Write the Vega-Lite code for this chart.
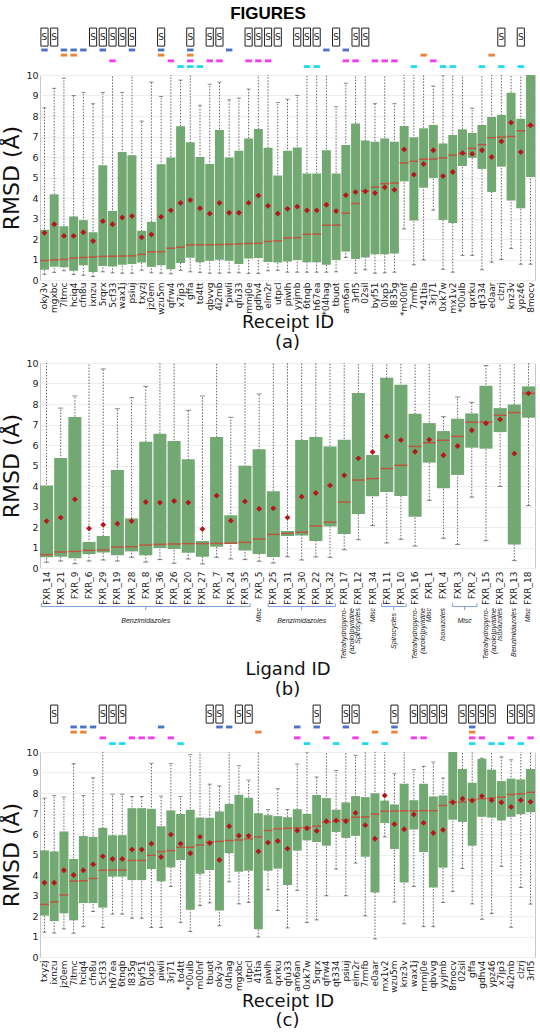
{
"$schema": "https://vega.github.io/schema/vega-lite/v6.json",
"padding": {"left": 0, "right": 4, "top": 5, "bottom": 0},
"title": {"text": "FIGURES", "font": "Liberation Sans", "fontSize": 17, "fontWeight": "bold", "anchor": "middle", "orient": "top", "offset": 4, "color": "#000"},
"spacing": 4,
"config": {
  "view": {"stroke": "#c8c8c8"},
  "axis": {"labelFont": "DejaVu Sans", "titleFont": "DejaVu Sans", "labelColor": "#222", "titleColor": "#111", "titleFontWeight": "normal", "ticks": false, "domain": false},
  "axisQuantitative": {"tickCount": 11, "labelOverlap": false, "labelSeparation": 0},
  "axisYQuantitative": {"tickCount": 11, "labelOverlap": false, "labelSeparation": 0},
  "axisY": {"grid": true, "gridColor": "#eeeeee", "labelFontSize": 9.5, "titleFontSize": 22, "labelPadding": 2, "titlePadding": 2, "labelOverlap": false, "tickCount": 11},
  "axisX": {"labelAngle": -90, "labelFontSize": 9, "titleFontSize": 18, "labelPadding": 3, "titlePadding": -2, "grid": false},
  "title": {"font": "DejaVu Sans", "fontSize": 18, "fontWeight": "normal", "orient": "bottom", "anchor": "middle", "offset": 2, "color": "#111"}
},
"datasets": {
  "a": [
    {"id":"oky3v","lo":0.28,"q1":0.5,"med":0.95,"q3":2.45,"hi":8.4,"mean":2.3,"tags":"S T1"},
    {"id":"mgxbc","lo":0.37,"q1":0.65,"med":0.98,"q3":4.18,"hi":9.35,"mean":2.72,"tags":"S"},
    {"id":"7ltmc","lo":0.45,"q1":0.62,"med":1.0,"q3":2.62,"hi":9.85,"mean":2.15,"tags":"T1 T2"},
    {"id":"hciq4","lo":0.27,"q1":0.45,"med":1.07,"q3":3.1,"hi":9.0,"mean":2.15,"tags":"T1 T2"},
    {"id":"cfn8u","lo":0.23,"q1":0.72,"med":1.1,"q3":2.92,"hi":9.15,"mean":2.33,"tags":"T1"},
    {"id":"ixnzu","lo":0.17,"q1":0.39,"med":1.12,"q3":2.33,"hi":8.6,"mean":1.9,"tags":"S"},
    {"id":"5rqrx","lo":0.4,"q1":0.68,"med":1.15,"q3":5.6,"hi":9.15,"mean":2.87,"tags":"S T1"},
    {"id":"5cf33","lo":0.35,"q1":0.66,"med":1.16,"q3":3.37,"hi":10.6,"mean":2.72,"tags":"S T3"},
    {"id":"wax1j","lo":0.33,"q1":0.75,"med":1.17,"q3":6.25,"hi":9.15,"mean":3.05,"tags":"S"},
    {"id":"psiuj","lo":0.33,"q1":0.78,"med":1.18,"q3":6.08,"hi":10.6,"mean":3.12,"tags":"S T1"},
    {"id":"txyzj","lo":0.48,"q1":0.85,"med":1.25,"q3":2.4,"hi":7.75,"mean":2.08,"tags":""},
    {"id":"jz0em","lo":0.35,"q1":0.64,"med":1.37,"q3":2.84,"hi":9.65,"mean":2.22,"tags":""},
    {"id":"wzu5m","lo":0.33,"q1":0.72,"med":1.38,"q3":5.65,"hi":8.95,"mean":3.08,"tags":"S T1 T2"},
    {"id":"qfrw4","lo":0.3,"q1":0.52,"med":1.55,"q3":5.97,"hi":10.6,"mean":3.4,"tags":"T3"},
    {"id":"x7jp3","lo":0.47,"q1":0.83,"med":1.6,"q3":7.5,"hi":9.75,"mean":3.76,"tags":"T4"},
    {"id":"gffa","lo":0.4,"q1":1.08,"med":1.71,"q3":6.72,"hi":10.6,"mean":3.9,"tags":"S T1 T2 T3 T4"},
    {"id":"to4tt","lo":0.37,"q1":0.86,"med":1.72,"q3":6.0,"hi":8.52,"mean":3.5,"tags":"T4"},
    {"id":"qbvvg","lo":0.33,"q1":0.94,"med":1.72,"q3":5.66,"hi":9.55,"mean":3.24,"tags":"S T3"},
    {"id":"4i2mb","lo":0.33,"q1":0.99,"med":1.73,"q3":7.32,"hi":9.65,"mean":3.76,"tags":"S T3"},
    {"id":"*piwli","lo":0.35,"q1":0.94,"med":1.74,"q3":5.97,"hi":8.79,"mean":3.28,"tags":"T1"},
    {"id":"qfu33","lo":0.35,"q1":0.78,"med":1.76,"q3":6.3,"hi":8.87,"mean":3.28,"tags":""},
    {"id":"mmj0e","lo":0.32,"q1":1.05,"med":1.78,"q3":6.9,"hi":9.31,"mean":3.76,"tags":"S T3"},
    {"id":"gdhv4","lo":0.32,"q1":1.07,"med":1.79,"q3":7.37,"hi":10.6,"mean":4.12,"tags":"S T3"},
    {"id":"elm2r","lo":0.45,"q1":0.88,"med":1.88,"q3":6.45,"hi":10.6,"mean":3.62,"tags":"S T3"},
    {"id":"utpcl","lo":0.47,"q1":0.85,"med":1.91,"q3":5.1,"hi":8.66,"mean":3.24,"tags":"S"},
    {"id":"piwlh","lo":0.38,"q1":0.9,"med":2.05,"q3":6.3,"hi":8.82,"mean":3.47,"tags":""},
    {"id":"yyjmb","lo":0.38,"q1":0.97,"med":2.06,"q3":6.46,"hi":9.0,"mean":3.58,"tags":"S"},
    {"id":"6tnqb","lo":0.38,"q1":0.87,"med":2.23,"q3":5.19,"hi":10.6,"mean":3.4,"tags":"S T4"},
    {"id":"h67ea","lo":0.38,"q1":0.87,"med":2.24,"q3":5.19,"hi":10.6,"mean":3.4,"tags":"S T4"},
    {"id":"*04hag","lo":0.38,"q1":0.74,"med":2.67,"q3":6.33,"hi":10.6,"mean":3.67,"tags":"T1"},
    {"id":"tbuot","lo":0.4,"q1":0.98,"med":2.68,"q3":5.19,"hi":8.45,"mean":3.36,"tags":"S"},
    {"id":"am6an","lo":1.1,"q1":1.39,"med":3.26,"q3":6.58,"hi":9.6,"mean":4.14,"tags":"T1 T3"},
    {"id":"3rfl5","lo":0.33,"q1":1.03,"med":3.73,"q3":7.64,"hi":10.6,"mean":4.29,"tags":"S T3"},
    {"id":"02sil","lo":0.5,"q1":1.1,"med":4.35,"q3":6.81,"hi":10.6,"mean":4.32,"tags":"S"},
    {"id":"byf51","lo":0.33,"q1":1.26,"med":4.53,"q3":6.74,"hi":8.6,"mean":4.24,"tags":"T3"},
    {"id":"0lxp5","lo":0.35,"q1":1.26,"med":4.7,"q3":6.9,"hi":10.6,"mean":4.52,"tags":"T3"},
    {"id":"l835g","lo":0.38,"q1":1.29,"med":4.73,"q3":6.74,"hi":8.6,"mean":4.4,"tags":"T3"},
    {"id":"*m00nf","lo":2.49,"q1":4.81,"med":5.71,"q3":7.51,"hi":10.6,"mean":6.37,"tags":""},
    {"id":"7rmfb","lo":0.74,"q1":2.9,"med":5.79,"q3":6.96,"hi":10.6,"mean":5.14,"tags":"T4"},
    {"id":"*41tia","lo":0.98,"q1":4.5,"med":5.89,"q3":7.4,"hi":10.6,"mean":5.66,"tags":"T2"},
    {"id":"3rj71","lo":3.41,"q1":4.98,"med":5.9,"q3":7.56,"hi":9.46,"mean":6.33,"tags":"T3"},
    {"id":"0xk7w","lo":0.52,"q1":2.93,"med":5.96,"q3":6.66,"hi":10.0,"mean":5.07,"tags":"T4"},
    {"id":"mx1v2","lo":0.38,"q1":2.78,"med":6.09,"q3":7.07,"hi":10.6,"mean":5.27,"tags":"T4"},
    {"id":"*00ulb","lo":1.2,"q1":5.56,"med":6.17,"q3":7.35,"hi":10.6,"mean":6.19,"tags":""},
    {"id":"qxrku","lo":1.2,"q1":5.96,"med":6.42,"q3":7.17,"hi":8.38,"mean":6.15,"tags":""},
    {"id":"qt334","lo":0.5,"q1":5.42,"med":6.6,"q3":7.56,"hi":10.6,"mean":6.33,"tags":"T4"},
    {"id":"e0aar","lo":0.87,"q1":4.29,"med":6.94,"q3":7.95,"hi":10.6,"mean":6.0,"tags":"T2"},
    {"id":"clzrj","lo":1.0,"q1":5.53,"med":6.97,"q3":8.05,"hi":10.6,"mean":6.76,"tags":"S T4"},
    {"id":"knz3v","lo":1.54,"q1":3.88,"med":7.0,"q3":9.13,"hi":10.6,"mean":7.68,"tags":""},
    {"id":"ypz46","lo":0.77,"q1":3.5,"med":7.28,"q3":7.86,"hi":10.6,"mean":6.24,"tags":"S T4"},
    {"id":"8mocv","lo":0.77,"q1":5.02,"med":7.53,"q3":10.6,"hi":10.6,"mean":7.55,"tags":""}
  ],
  "b": [
    {"id":"FXR_14","lo":0.28,"q1":0.52,"med":0.65,"q3":4.02,"hi":10.6,"mean":2.29},
    {"id":"FXR_21","lo":0.34,"q1":0.55,"med":0.78,"q3":5.37,"hi":7.8,"mean":2.46},
    {"id":"FXR_9","lo":0.21,"q1":0.47,"med":0.81,"q3":7.37,"hi":8.39,"mean":3.35},
    {"id":"FXR_6","lo":0.34,"q1":0.68,"med":0.86,"q3":1.27,"hi":10.6,"mean":1.93},
    {"id":"FXR_29","lo":0.39,"q1":0.76,"med":0.88,"q3":1.56,"hi":9.71,"mean":2.11},
    {"id":"FXR_19","lo":0.34,"q1":0.62,"med":1.02,"q3":4.78,"hi":7.77,"mean":2.16},
    {"id":"FXR_28","lo":0.52,"q1":0.81,"med":1.04,"q3":2.42,"hi":8.31,"mean":2.29},
    {"id":"FXR_8","lo":0.29,"q1":0.62,"med":1.12,"q3":6.16,"hi":8.86,"mean":3.22},
    {"id":"FXR_36","lo":0.41,"q1":0.98,"med":1.15,"q3":6.55,"hi":10.6,"mean":3.19},
    {"id":"FXR_26","lo":0.23,"q1":0.93,"med":1.17,"q3":6.2,"hi":10.6,"mean":3.27},
    {"id":"FXR_20","lo":0.44,"q1":0.75,"med":1.19,"q3":5.3,"hi":7.69,"mean":3.19},
    {"id":"FXR_27","lo":0.2,"q1":0.55,"med":1.19,"q3":1.32,"hi":8.39,"mean":1.9},
    {"id":"FXR_7","lo":0.52,"q1":1.04,"med":1.2,"q3":6.39,"hi":10.6,"mean":3.53},
    {"id":"FXR_24","lo":0.44,"q1":1.17,"med":1.21,"q3":2.57,"hi":7.35,"mean":2.31},
    {"id":"FXR_35","lo":0.41,"q1":0.85,"med":1.25,"q3":4.99,"hi":10.6,"mean":3.25},
    {"id":"FXR_5","lo":0.33,"q1":0.68,"med":1.41,"q3":5.79,"hi":8.49,"mean":2.89},
    {"id":"FXR_25","lo":0.24,"q1":0.54,"med":1.64,"q3":3.74,"hi":10.6,"mean":2.91},
    {"id":"FXR_31","lo":0.55,"q1":1.56,"med":1.69,"q3":1.8,"hi":10.6,"mean":2.46},
    {"id":"FXR_30","lo":0.39,"q1":1.59,"med":1.74,"q3":6.24,"hi":10.6,"mean":3.48},
    {"id":"FXR_22","lo":0.54,"q1":1.32,"med":2.05,"q3":6.39,"hi":10.6,"mean":3.66},
    {"id":"FXR_32","lo":0.52,"q1":2.02,"med":2.24,"q3":5.93,"hi":10.6,"mean":4.03},
    {"id":"FXR_17","lo":0.89,"q1":1.66,"med":3.22,"q3":6.26,"hi":10.6,"mean":4.52},
    {"id":"FXR_12","lo":1.38,"q1":2.63,"med":4.29,"q3":8.54,"hi":10.6,"mean":5.35},
    {"id":"FXR_34","lo":2.07,"q1":3.5,"med":4.36,"q3":5.51,"hi":10.6,"mean":5.66},
    {"id":"FXR_11","lo":1.22,"q1":3.71,"med":4.85,"q3":9.28,"hi":10.6,"mean":6.42},
    {"id":"FXR_10","lo":1.4,"q1":3.51,"med":5.01,"q3":8.94,"hi":10.6,"mean":6.24},
    {"id":"FXR_16","lo":1.07,"q1":2.5,"med":5.93,"q3":7.53,"hi":10.6,"mean":5.67},
    {"id":"FXR_1","lo":3.3,"q1":5.14,"med":6.11,"q3":7.07,"hi":10.6,"mean":6.26},
    {"id":"FXR_4","lo":1.45,"q1":3.89,"med":6.23,"q3":6.68,"hi":7.38,"mean":5.5},
    {"id":"FXR_3","lo":1.15,"q1":4.54,"med":6.42,"q3":7.28,"hi":8.34,"mean":5.95},
    {"id":"FXR_2","lo":3.46,"q1":5.87,"med":7.11,"q3":7.54,"hi":8.08,"mean":6.72},
    {"id":"FXR_15","lo":1.33,"q1":5.82,"med":7.12,"q3":8.89,"hi":9.87,"mean":7.06},
    {"id":"FXR_23","lo":3.98,"q1":6.63,"med":7.45,"q3":7.8,"hi":10.6,"mean":7.25},
    {"id":"FXR_13","lo":0.36,"q1":1.15,"med":7.58,"q3":7.97,"hi":10.6,"mean":5.58},
    {"id":"FXR_18","lo":3.04,"q1":7.33,"med":8.52,"q3":8.86,"hi":10.6,"mean":8.52}
  ],
  "groups": [
    {"label":"Benzimidazoles","first":"FXR_14","last":"FXR_35","center":"FXR_8","n":15},
    {"label":"Misc","first":"FXR_5","last":"FXR_5","center":"FXR_5","n":1},
    {"label":"Benzimidazoles","first":"FXR_25","last":"FXR_32","center":"FXR_30","n":5},
    {"label":"Tetrahydropyrro-\n(azolo)pyridine","first":"FXR_17","last":"FXR_17","center":"FXR_17","n":1},
    {"label":"Spirocycles","first":"FXR_12","last":"FXR_12","center":"FXR_12","n":1},
    {"label":"Misc","first":"FXR_34","last":"FXR_34","center":"FXR_34","n":1},
    {"label":"Spirocycles","first":"FXR_11","last":"FXR_10","center":"FXR_11","n":2},
    {"label":"Tetrahydropyrro-\n(azolo)pyridine","first":"FXR_16","last":"FXR_16","center":"FXR_16","n":1},
    {"label":"Misc","first":"FXR_1","last":"FXR_1","center":"FXR_1","n":1},
    {"label":"Isoxazoles","first":"FXR_4","last":"FXR_4","center":"FXR_4","n":1},
    {"label":"Misc","first":"FXR_3","last":"FXR_2","center":"FXR_3","n":2},
    {"label":"Tetrahydropyrro-\n(azolo)pyridine","first":"FXR_15","last":"FXR_15","center":"FXR_15","n":1},
    {"label":"Isoxazoles","first":"FXR_23","last":"FXR_23","center":"FXR_23","n":1},
    {"label":"Benzimidazoles","first":"FXR_13","last":"FXR_13","center":"FXR_13","n":1},
    {"label":"Misc","first":"FXR_18","last":"FXR_18","center":"FXR_18","n":1}
  ],
  "c": [
    {"id":"txyzj","lo":1.21,"q1":2.02,"med":2.56,"q3":5.2,"hi":7.75,"mean":3.62,"tags":""},
    {"id":"ixnzu","lo":1.17,"q1":1.75,"med":2.69,"q3":5.15,"hi":7.88,"mean":3.62,"tags":"S"},
    {"id":"jz0em","lo":1.37,"q1":2.14,"med":3.03,"q3":6.12,"hi":7.8,"mean":4.23,"tags":""},
    {"id":"7ltmc","lo":1.16,"q1":1.79,"med":3.7,"q3":4.78,"hi":9.43,"mean":4.0,"tags":"T1 T2"},
    {"id":"hciq4","lo":1.48,"q1":2.63,"med":3.72,"q3":5.9,"hi":7.88,"mean":4.23,"tags":"T1 T2"},
    {"id":"cfn8u","lo":2.22,"q1":2.63,"med":3.83,"q3":5.86,"hi":8.74,"mean":4.52,"tags":"T1"},
    {"id":"5cf33","lo":1.44,"q1":2.41,"med":4.23,"q3":6.3,"hi":10.6,"mean":4.91,"tags":"S T3"},
    {"id":"h67ea","lo":2.09,"q1":3.92,"med":4.24,"q3":5.94,"hi":7.94,"mean":4.78,"tags":"S T4"},
    {"id":"6tnqb","lo":2.09,"q1":3.92,"med":4.24,"q3":5.94,"hi":7.94,"mean":4.78,"tags":"S T4"},
    {"id":"l835g","lo":1.89,"q1":3.75,"med":4.71,"q3":7.26,"hi":7.83,"mean":5.24,"tags":"T3"},
    {"id":"byf51","lo":1.89,"q1":3.75,"med":4.71,"q3":7.26,"hi":7.83,"mean":5.24,"tags":"T3"},
    {"id":"0lxp5","lo":1.44,"q1":4.29,"med":4.96,"q3":7.23,"hi":9.45,"mean":5.53,"tags":"T3"},
    {"id":"piwli","lo":1.44,"q1":3.69,"med":5.14,"q3":6.38,"hi":7.85,"mean":4.88,"tags":"T1"},
    {"id":"3rj71","lo":3.44,"q1":4.37,"med":5.19,"q3":7.15,"hi":9.43,"mean":5.97,"tags":"T3"},
    {"id":"to4tt","lo":1.68,"q1":4.73,"med":5.35,"q3":6.98,"hi":7.83,"mean":5.53,"tags":"T4"},
    {"id":"*00ulb","lo":1.24,"q1":2.3,"med":5.36,"q3":7.18,"hi":9.87,"mean":5.06,"tags":""},
    {"id":"m00nf","lo":2.51,"q1":4.06,"med":5.46,"q3":6.8,"hi":10.6,"mean":5.86,"tags":""},
    {"id":"tbuot","lo":2.64,"q1":4.24,"med":5.6,"q3":6.79,"hi":8.43,"mean":5.56,"tags":"S"},
    {"id":"oky3v","lo":1.53,"q1":2.27,"med":5.64,"q3":7.1,"hi":8.35,"mean":4.73,"tags":"S T1"},
    {"id":"04hag","lo":3.67,"q1":5.06,"med":5.68,"q3":7.47,"hi":10.6,"mean":6.38,"tags":"T1"},
    {"id":"mgxbc","lo":2.59,"q1":4.16,"med":5.71,"q3":7.91,"hi":9.33,"mean":5.92,"tags":"S"},
    {"id":"utpcl","lo":2.66,"q1":4.21,"med":5.77,"q3":7.77,"hi":8.63,"mean":5.91,"tags":"S"},
    {"id":"41tia","lo":0.98,"q1":1.35,"med":5.86,"q3":7.01,"hi":10.6,"mean":5.15,"tags":"T2"},
    {"id":"piwlh","lo":3.28,"q1":4.21,"med":6.17,"q3":6.92,"hi":7.19,"mean":5.58,"tags":""},
    {"id":"qxrku","lo":2.27,"q1":4.31,"med":6.25,"q3":6.87,"hi":8.21,"mean":5.66,"tags":""},
    {"id":"qfu33","lo":1.42,"q1":3.51,"med":6.28,"q3":6.82,"hi":7.19,"mean":5.29,"tags":""},
    {"id":"am6an","lo":3.25,"q1":5.19,"med":6.3,"q3":7.21,"hi":9.41,"mean":6.17,"tags":"T1 T3"},
    {"id":"0xk7w","lo":1.68,"q1":5.69,"med":6.31,"q3":6.98,"hi":10.0,"mean":6.28,"tags":"T4"},
    {"id":"5rqrx","lo":1.81,"q1":5.61,"med":6.38,"q3":7.9,"hi":8.78,"mean":6.15,"tags":"S T1"},
    {"id":"qfrw4","lo":2.99,"q1":5.43,"med":6.57,"q3":7.75,"hi":10.6,"mean":6.62,"tags":"T3"},
    {"id":"qt334","lo":4.29,"q1":6.1,"med":6.62,"q3":7.19,"hi":9.1,"mean":6.66,"tags":"T4"},
    {"id":"psiuj","lo":2.99,"q1":5.81,"med":6.7,"q3":7.54,"hi":10.6,"mean":6.62,"tags":"S T1"},
    {"id":"elm2r","lo":4.58,"q1":5.91,"med":6.82,"q3":7.85,"hi":9.84,"mean":7.03,"tags":"S T3"},
    {"id":"7rmfb","lo":2.01,"q1":4.89,"med":6.83,"q3":7.8,"hi":10.6,"mean":6.43,"tags":"T4"},
    {"id":"e0aar","lo":0.88,"q1":3.15,"med":6.97,"q3":7.99,"hi":10.6,"mean":5.77,"tags":"T2"},
    {"id":"mx1v2","lo":5.86,"q1":6.54,"med":7.11,"q3":7.63,"hi":10.6,"mean":7.88,"tags":"T4"},
    {"id":"wzu5m","lo":2.68,"q1":5.27,"med":7.12,"q3":7.44,"hi":8.94,"mean":6.48,"tags":"S T1 T2"},
    {"id":"knz3v","lo":1.62,"q1":3.64,"med":7.13,"q3":8.45,"hi":10.6,"mean":6.23,"tags":""},
    {"id":"wax1j","lo":3.44,"q1":6.22,"med":7.13,"q3":7.65,"hi":9.14,"mean":6.95,"tags":"S T3"},
    {"id":"mmj0e","lo":1.48,"q1":5.12,"med":7.14,"q3":8.45,"hi":9.3,"mean":6.54,"tags":"S T3"},
    {"id":"qbvvg","lo":1.48,"q1":3.39,"med":7.14,"q3":7.83,"hi":9.51,"mean":6.05,"tags":"S"},
    {"id":"yyjmb","lo":2.66,"q1":4.36,"med":7.39,"q3":7.88,"hi":8.73,"mean":6.2,"tags":"S"},
    {"id":"8mocv","lo":3.2,"q1":6.7,"med":7.55,"q3":10.6,"hi":10.6,"mean":7.55,"tags":""},
    {"id":"02sil","lo":4.32,"q1":6.59,"med":7.56,"q3":9.17,"hi":10.6,"mean":7.72,"tags":"S"},
    {"id":"gffa","lo":2.59,"q1":5.43,"med":7.68,"q3":8.5,"hi":10.6,"mean":7.63,"tags":"S T1 T2 T3 T4"},
    {"id":"gdhv4","lo":1.84,"q1":6.84,"med":7.72,"q3":9.67,"hi":9.7,"mean":7.85,"tags":"S T3"},
    {"id":"ypz46","lo":2.12,"q1":6.8,"med":7.75,"q3":9.14,"hi":10.6,"mean":7.65,"tags":"S T4"},
    {"id":"x7jp3","lo":4.42,"q1":6.66,"med":7.8,"q3":8.58,"hi":9.76,"mean":7.54,"tags":"T4"},
    {"id":"4i2mb","lo":1.45,"q1":6.84,"med":7.93,"q3":8.7,"hi":9.62,"mean":7.32,"tags":"S T3"},
    {"id":"clzrj","lo":3.39,"q1":6.97,"med":7.96,"q3":8.66,"hi":10.6,"mean":7.65,"tags":"S T4"},
    {"id":"3rfl5","lo":2.58,"q1":7.06,"med":8.03,"q3":9.17,"hi":10.6,"mean":7.57,"tags":"S T3"}
  ]
},
"vconcat": [
  {
    "width": 495, "height": 205,
    "data": {"name": "a"},
    "title": {"text": "(a)", "offset": 2},
    "encoding": {"x": {"field": "id", "type": "nominal", "title": "Receipt ID", "axis": {"labelPadding": 2},
      "scale": {"paddingInner": 0.08, "paddingOuter": 0, "domain": ["oky3v","mgxbc","7ltmc","hciq4","cfn8u","ixnzu","5rqrx","5cf33","wax1j","psiuj","txyzj","jz0em","wzu5m","qfrw4","x7jp3","gffa","to4tt","qbvvg","4i2mb","*piwli","qfu33","mmj0e","gdhv4","elm2r","utpcl","piwlh","yyjmb","6tnqb","h67ea","*04hag","tbuot","am6an","3rfl5","02sil","byf51","0lxp5","l835g","*m00nf","7rmfb","*41tia","3rj71","0xk7w","mx1v2","*00ulb","qxrku","qt334","e0aar","clzrj","knz3v","ypz46","8mocv"]}}},
    "layer": [
      {"mark": {"type": "rule", "clip": true, "strokeDash": [1.5, 1.5], "color": "#666", "strokeWidth": 1},
       "encoding": {"y": {"field": "lo", "type": "quantitative", "title": "RMSD (Å)", "scale": {"domain": [0, 10], "nice": false}, "axis": {"values": [0,1,2,3,4,5,6,7,8,9,10], "labelOverlap": false, "tickCount": 11}}, "y2": {"field": "hi"}}},
      {"mark": {"type": "tick", "clip": true, "color": "#555", "size": 4, "thickness": 1}, "encoding": {"y": {"field": "hi", "type": "quantitative", "axis": {"values": [0,1,2,3,4,5,6,7,8,9,10], "labelOverlap": false, "tickCount": 11}}}},
      {"mark": {"type": "tick", "clip": true, "color": "#555", "size": 4, "thickness": 1}, "encoding": {"y": {"field": "lo", "type": "quantitative", "axis": {"values": [0,1,2,3,4,5,6,7,8,9,10], "labelOverlap": false, "tickCount": 11}}}},
      {"mark": {"type": "bar", "clip": true, "color": "#72a972"}, "encoding": {"y": {"field": "q1", "type": "quantitative", "axis": {"values": [0,1,2,3,4,5,6,7,8,9,10], "labelOverlap": false, "tickCount": 11}}, "y2": {"field": "q3"}}},
      {"mark": {"type": "tick", "color": "#d9342b", "size": 9, "thickness": 1.5}, "encoding": {"y": {"field": "med", "type": "quantitative", "axis": {"values": [0,1,2,3,4,5,6,7,8,9,10], "labelOverlap": false, "tickCount": 11}}}},
      {"mark": {"type": "point", "shape": "diamond", "filled": true, "color": "#b5161b", "size": 34, "opacity": 1}, "encoding": {"y": {"field": "mean", "type": "quantitative", "axis": {"values": [0,1,2,3,4,5,6,7,8,9,10], "labelOverlap": false, "tickCount": 11}}}},
      {"transform": [{"filter": "indexof(datum.tags, 'S') >= 0"}],
       "mark": {"type": "bar", "fill": "white", "stroke": "#222", "strokeWidth": 1, "width": {"band": 0.8}},
       "encoding": {"y": {"datum": 11.41, "type": "quantitative", "axis": {"values": [0,1,2,3,4,5,6,7,8,9,10], "labelOverlap": false, "tickCount": 11}}, "y2": {"datum": 12.29}}},
      {"transform": [{"filter": "indexof(datum.tags, 'S') >= 0"}],
       "mark": {"type": "text", "text": "S", "font": "DejaVu Sans", "fontSize": 9, "color": "#222"},
       "encoding": {"y": {"datum": 11.85, "type": "quantitative", "axis": {"values": [0,1,2,3,4,5,6,7,8,9,10], "labelOverlap": false, "tickCount": 11}}}},
      {"transform": [{"filter": "indexof(datum.tags, 'T1') >= 0"}],
       "mark": {"type": "bar", "color": "#4a73c5", "width": {"band": 0.72}},
       "encoding": {"y": {"datum": 11.15, "type": "quantitative", "axis": {"values": [0,1,2,3,4,5,6,7,8,9,10], "labelOverlap": false, "tickCount": 11}}, "y2": {"datum": 11.29}}},
      {"transform": [{"filter": "indexof(datum.tags, 'T2') >= 0"}],
       "mark": {"type": "bar", "color": "#ea8338", "width": {"band": 0.72}},
       "encoding": {"y": {"datum": 10.9, "type": "quantitative", "axis": {"values": [0,1,2,3,4,5,6,7,8,9,10], "labelOverlap": false, "tickCount": 11}}, "y2": {"datum": 11.04}}},
      {"transform": [{"filter": "indexof(datum.tags, 'T3') >= 0"}],
       "mark": {"type": "bar", "color": "#f23cf0", "width": {"band": 0.72}},
       "encoding": {"y": {"datum": 10.62, "type": "quantitative", "axis": {"values": [0,1,2,3,4,5,6,7,8,9,10], "labelOverlap": false, "tickCount": 11}}, "y2": {"datum": 10.76}}},
      {"transform": [{"filter": "indexof(datum.tags, 'T4') >= 0"}],
       "mark": {"type": "bar", "color": "#1fdcf0", "width": {"band": 0.72}},
       "encoding": {"y": {"datum": 10.34, "type": "quantitative", "axis": {"values": [0,1,2,3,4,5,6,7,8,9,10], "labelOverlap": false, "tickCount": 11}}, "y2": {"datum": 10.48}}}
    ]
  },
  {
    "width": 495, "height": 205,
    "data": {"name": "b"},
    "title": {"text": "(b)"},
    "encoding": {"x": {"field": "id", "type": "nominal", "title": "Ligand ID", "axis": {"titlePadding": 56},
      "scale": {"paddingInner": 0.08, "paddingOuter": 0, "domain": ["FXR_14","FXR_21","FXR_9","FXR_6","FXR_29","FXR_19","FXR_28","FXR_8","FXR_36","FXR_26","FXR_20","FXR_27","FXR_7","FXR_24","FXR_35","FXR_5","FXR_25","FXR_31","FXR_30","FXR_22","FXR_32","FXR_17","FXR_12","FXR_34","FXR_11","FXR_10","FXR_16","FXR_1","FXR_4","FXR_3","FXR_2","FXR_15","FXR_23","FXR_13","FXR_18"]}}},
    "layer": [
      {"mark": {"type": "rule", "clip": true, "strokeDash": [1.5, 1.5], "color": "#666", "strokeWidth": 1},
       "encoding": {"y": {"field": "lo", "type": "quantitative", "title": "RMSD (Å)", "scale": {"domain": [0, 10], "nice": false}, "axis": {"values": [0,1,2,3,4,5,6,7,8,9,10], "labelOverlap": false, "tickCount": 11}}, "y2": {"field": "hi"}}},
      {"mark": {"type": "tick", "clip": true, "color": "#555", "size": 5, "thickness": 1}, "encoding": {"y": {"field": "hi", "type": "quantitative", "axis": {"values": [0,1,2,3,4,5,6,7,8,9,10], "labelOverlap": false, "tickCount": 11}}}},
      {"mark": {"type": "tick", "clip": true, "color": "#555", "size": 5, "thickness": 1}, "encoding": {"y": {"field": "lo", "type": "quantitative", "axis": {"values": [0,1,2,3,4,5,6,7,8,9,10], "labelOverlap": false, "tickCount": 11}}}},
      {"mark": {"type": "bar", "clip": true, "color": "#72a972"}, "encoding": {"y": {"field": "q1", "type": "quantitative", "axis": {"values": [0,1,2,3,4,5,6,7,8,9,10], "labelOverlap": false, "tickCount": 11}}, "y2": {"field": "q3"}}},
      {"mark": {"type": "tick", "color": "#d9342b", "size": 13, "thickness": 1.5}, "encoding": {"y": {"field": "med", "type": "quantitative", "axis": {"values": [0,1,2,3,4,5,6,7,8,9,10], "labelOverlap": false, "tickCount": 11}}}},
      {"mark": {"type": "point", "shape": "diamond", "filled": true, "color": "#b5161b", "size": 34, "opacity": 1}, "encoding": {"y": {"field": "mean", "type": "quantitative", "axis": {"values": [0,1,2,3,4,5,6,7,8,9,10], "labelOverlap": false, "tickCount": 11}}}},
      {"data": {"name": "groups"}, "transform": [{"filter": "datum.n > 1"}],
       "mark": {"type": "rule", "color": "#7f9fd9", "strokeWidth": 1},
       "encoding": {"x": {"field": "first", "type": "nominal", "bandPosition": 0.1}, "x2": {"field": "last", "bandPosition": 0.9}, "y": {"datum": -1.88, "type": "quantitative", "axis": {"values": [0,1,2,3,4,5,6,7,8,9,10], "labelOverlap": false, "tickCount": 11}}}},
      {"data": {"name": "groups"}, "transform": [{"filter": "datum.n > 1"}],
       "mark": {"type": "rule", "color": "#7f9fd9", "strokeWidth": 1},
       "encoding": {"x": {"field": "first", "type": "nominal", "bandPosition": 0.1}, "y": {"datum": -1.88, "type": "quantitative", "axis": {"values": [0,1,2,3,4,5,6,7,8,9,10], "labelOverlap": false, "tickCount": 11}}, "y2": {"datum": -1.72}}},
      {"data": {"name": "groups"}, "transform": [{"filter": "datum.n > 1"}],
       "mark": {"type": "rule", "color": "#7f9fd9", "strokeWidth": 1},
       "encoding": {"x": {"field": "last", "type": "nominal", "bandPosition": 0.9}, "y": {"datum": -1.88, "type": "quantitative", "axis": {"values": [0,1,2,3,4,5,6,7,8,9,10], "labelOverlap": false, "tickCount": 11}}, "y2": {"datum": -1.72}}},
      {"data": {"name": "groups"}, "transform": [{"filter": "datum.n > 1 && datum.n % 2 == 1"}],
       "mark": {"type": "rule", "color": "#7f9fd9", "strokeWidth": 1},
       "encoding": {"x": {"field": "center", "type": "nominal", "bandPosition": 0.5}, "y": {"datum": -1.88, "type": "quantitative", "axis": {"values": [0,1,2,3,4,5,6,7,8,9,10], "labelOverlap": false, "tickCount": 11}}, "y2": {"datum": -2.06}}},
      {"data": {"name": "groups"}, "transform": [{"filter": "datum.n > 1 && datum.n % 2 == 0"}],
       "mark": {"type": "rule", "color": "#7f9fd9", "strokeWidth": 1},
       "encoding": {"x": {"field": "center", "type": "nominal", "bandPosition": 1.04}, "y": {"datum": -1.88, "type": "quantitative", "axis": {"values": [0,1,2,3,4,5,6,7,8,9,10], "labelOverlap": false, "tickCount": 11}}, "y2": {"datum": -2.06}}},
      {"data": {"name": "groups"}, "transform": [{"filter": "length(datum.label) * 0.25 < datum.n && datum.n % 2 == 1"}],
       "mark": {"type": "text", "font": "Liberation Sans", "fontStyle": "italic", "fontSize": 7, "color": "#222", "baseline": "middle"},
       "encoding": {"x": {"field": "center", "type": "nominal", "bandPosition": 0.5}, "y": {"datum": -2.6, "type": "quantitative", "axis": {"values": [0,1,2,3,4,5,6,7,8,9,10], "labelOverlap": false, "tickCount": 11}}, "text": {"field": "label"}}},
      {"data": {"name": "groups"}, "transform": [{"filter": "length(datum.label) * 0.25 < datum.n && datum.n % 2 == 0"}],
       "mark": {"type": "text", "font": "Liberation Sans", "fontStyle": "italic", "fontSize": 7, "color": "#222", "baseline": "middle"},
       "encoding": {"x": {"field": "center", "type": "nominal", "bandPosition": 1.04}, "y": {"datum": -2.6, "type": "quantitative", "axis": {"values": [0,1,2,3,4,5,6,7,8,9,10], "labelOverlap": false, "tickCount": 11}}, "text": {"field": "label"}}},
      {"data": {"name": "groups"}, "transform": [{"filter": "!(length(datum.label) * 0.25 < datum.n) && datum.n % 2 == 1"}],
       "mark": {"type": "text", "font": "Liberation Sans", "fontStyle": "italic", "fontSize": 7, "color": "#222", "angle": 270, "align": "right", "baseline": "middle", "lineBreak": "\n", "lineHeight": 8},
       "encoding": {"x": {"field": "center", "type": "nominal", "bandPosition": 0.5}, "y": {"datum": -1.95, "type": "quantitative", "axis": {"values": [0,1,2,3,4,5,6,7,8,9,10], "labelOverlap": false, "tickCount": 11}}, "text": {"field": "label"}}},
      {"data": {"name": "groups"}, "transform": [{"filter": "!(length(datum.label) * 0.25 < datum.n) && datum.n % 2 == 0"}],
       "mark": {"type": "text", "font": "Liberation Sans", "fontStyle": "italic", "fontSize": 7, "color": "#222", "angle": 270, "align": "right", "baseline": "middle", "lineBreak": "\n", "lineHeight": 8},
       "encoding": {"x": {"field": "center", "type": "nominal", "bandPosition": 1.04}, "y": {"datum": -2.2, "type": "quantitative", "axis": {"values": [0,1,2,3,4,5,6,7,8,9,10], "labelOverlap": false, "tickCount": 11}}, "text": {"field": "label"}}}
    ]
  },
  {
    "width": 495, "height": 205,
    "data": {"name": "c"},
    "title": {"text": "(c)"},
    "encoding": {"x": {"field": "id", "type": "nominal", "title": "Receipt ID", "axis": {"titlePadding": 0},
      "scale": {"paddingInner": 0.08, "paddingOuter": 0, "domain": ["txyzj","ixnzu","jz0em","7ltmc","hciq4","cfn8u","5cf33","h67ea","6tnqb","l835g","byf51","0lxp5","piwli","3rj71","to4tt","*00ulb","m00nf","tbuot","oky3v","04hag","mgxbc","utpcl","41tia","piwlh","qxrku","qfu33","am6an","0xk7w","5rqrx","qfrw4","qt334","psiuj","elm2r","7rmfb","e0aar","mx1v2","wzu5m","knz3v","wax1j","mmj0e","qbvvg","yyjmb","8mocv","02sil","gffa","gdhv4","ypz46","x7jp3","4i2mb","clzrj","3rfl5"]}}},
    "layer": [
      {"mark": {"type": "rule", "clip": true, "strokeDash": [1.5, 1.5], "color": "#666", "strokeWidth": 1},
       "encoding": {"y": {"field": "lo", "type": "quantitative", "title": "RMSD (Å)", "scale": {"domain": [0, 10], "nice": false}, "axis": {"values": [0,1,2,3,4,5,6,7,8,9,10], "labelOverlap": false, "tickCount": 11}}, "y2": {"field": "hi"}}},
      {"mark": {"type": "tick", "clip": true, "color": "#555", "size": 4, "thickness": 1}, "encoding": {"y": {"field": "hi", "type": "quantitative", "axis": {"values": [0,1,2,3,4,5,6,7,8,9,10], "labelOverlap": false, "tickCount": 11}}}},
      {"mark": {"type": "tick", "clip": true, "color": "#555", "size": 4, "thickness": 1}, "encoding": {"y": {"field": "lo", "type": "quantitative", "axis": {"values": [0,1,2,3,4,5,6,7,8,9,10], "labelOverlap": false, "tickCount": 11}}}},
      {"mark": {"type": "bar", "clip": true, "color": "#72a972"}, "encoding": {"y": {"field": "q1", "type": "quantitative", "axis": {"values": [0,1,2,3,4,5,6,7,8,9,10], "labelOverlap": false, "tickCount": 11}}, "y2": {"field": "q3"}}},
      {"mark": {"type": "tick", "color": "#d9342b", "size": 9, "thickness": 1.5}, "encoding": {"y": {"field": "med", "type": "quantitative", "axis": {"values": [0,1,2,3,4,5,6,7,8,9,10], "labelOverlap": false, "tickCount": 11}}}},
      {"mark": {"type": "point", "shape": "diamond", "filled": true, "color": "#b5161b", "size": 34, "opacity": 1}, "encoding": {"y": {"field": "mean", "type": "quantitative", "axis": {"values": [0,1,2,3,4,5,6,7,8,9,10], "labelOverlap": false, "tickCount": 11}}}},
      {"transform": [{"filter": "indexof(datum.tags, 'S') >= 0"}],
       "mark": {"type": "bar", "fill": "white", "stroke": "#222", "strokeWidth": 1, "width": {"band": 0.8}},
       "encoding": {"y": {"datum": 11.41, "type": "quantitative", "axis": {"values": [0,1,2,3,4,5,6,7,8,9,10], "labelOverlap": false, "tickCount": 11}}, "y2": {"datum": 12.29}}},
      {"transform": [{"filter": "indexof(datum.tags, 'S') >= 0"}],
       "mark": {"type": "text", "text": "S", "font": "DejaVu Sans", "fontSize": 9, "color": "#222"},
       "encoding": {"y": {"datum": 11.85, "type": "quantitative", "axis": {"values": [0,1,2,3,4,5,6,7,8,9,10], "labelOverlap": false, "tickCount": 11}}}},
      {"transform": [{"filter": "indexof(datum.tags, 'T1') >= 0"}],
       "mark": {"type": "bar", "color": "#4a73c5", "width": {"band": 0.72}},
       "encoding": {"y": {"datum": 11.15, "type": "quantitative", "axis": {"values": [0,1,2,3,4,5,6,7,8,9,10], "labelOverlap": false, "tickCount": 11}}, "y2": {"datum": 11.29}}},
      {"transform": [{"filter": "indexof(datum.tags, 'T2') >= 0"}],
       "mark": {"type": "bar", "color": "#ea8338", "width": {"band": 0.72}},
       "encoding": {"y": {"datum": 10.9, "type": "quantitative", "axis": {"values": [0,1,2,3,4,5,6,7,8,9,10], "labelOverlap": false, "tickCount": 11}}, "y2": {"datum": 11.04}}},
      {"transform": [{"filter": "indexof(datum.tags, 'T3') >= 0"}],
       "mark": {"type": "bar", "color": "#f23cf0", "width": {"band": 0.72}},
       "encoding": {"y": {"datum": 10.62, "type": "quantitative", "axis": {"values": [0,1,2,3,4,5,6,7,8,9,10], "labelOverlap": false, "tickCount": 11}}, "y2": {"datum": 10.76}}},
      {"transform": [{"filter": "indexof(datum.tags, 'T4') >= 0"}],
       "mark": {"type": "bar", "color": "#1fdcf0", "width": {"band": 0.72}},
       "encoding": {"y": {"datum": 10.34, "type": "quantitative", "axis": {"values": [0,1,2,3,4,5,6,7,8,9,10], "labelOverlap": false, "tickCount": 11}}, "y2": {"datum": 10.48}}}
    ]
  }
]
}
